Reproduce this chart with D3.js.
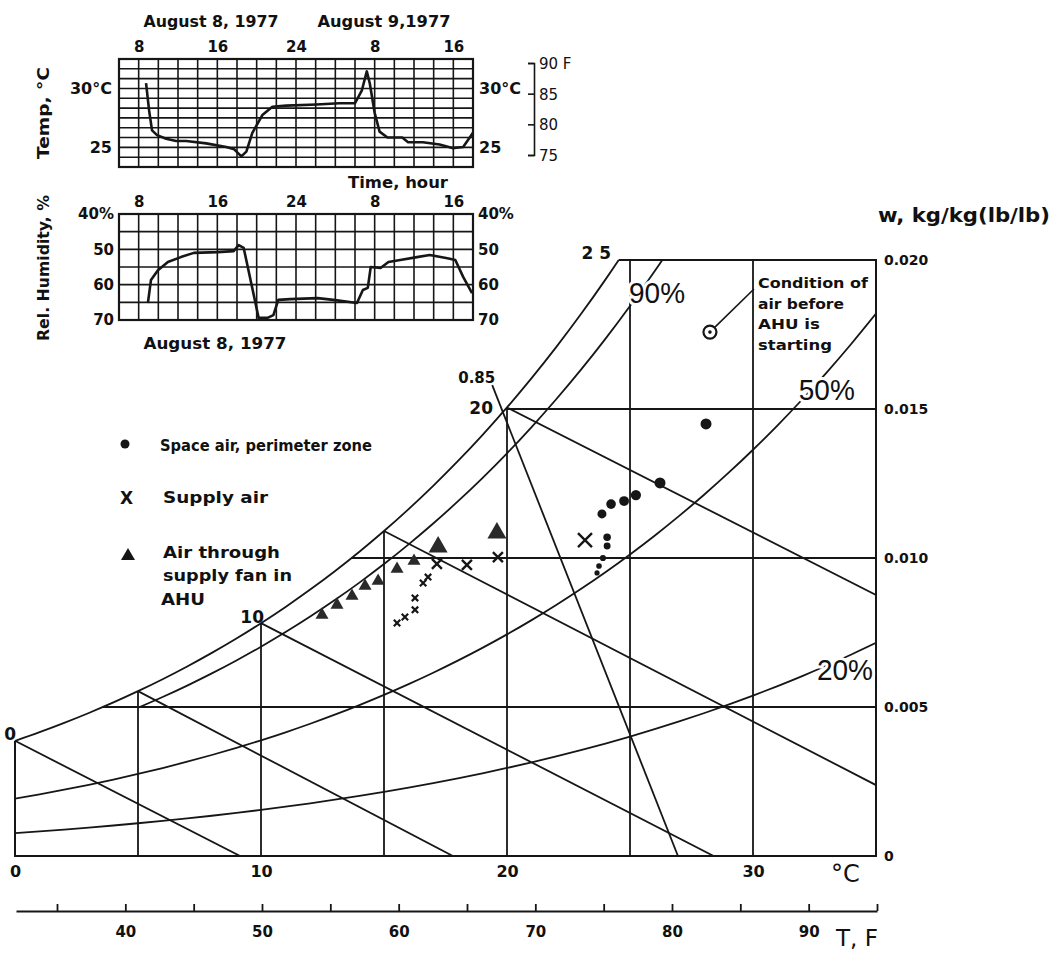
<!DOCTYPE html>
<html>
<head>
<meta charset="utf-8">
<script src="https://cdn.jsdelivr.net/npm/d3@7"></script>
<style>
  body { margin: 0; background: #fff; }
  svg { display: block; }
  text { font-family: 'DejaVu Sans', sans-serif; font-weight: bold; fill: #111; }
</style>
</head>
<body>
<svg id="chart" width="1057" height="958"></svg>
<script>
// ---- psychrometric chart structure ----
// saturation vapour pressure (kPa) at 0..35 °C
const satTemps = d3.range(0, 36);
const satPressure = [0.6113, 0.6571, 0.7060, 0.7581, 0.8135, 0.8726, 0.9354, 1.0021, 1.0730, 1.1482,
    1.2282, 1.3129, 1.4028, 1.4981, 1.5989, 1.7057, 1.8188, 1.9383, 2.0647, 2.1982,
    2.3392, 2.4881, 2.6452, 2.8109, 2.9856, 3.1697, 3.3637, 3.5679, 3.7828, 4.0089,
    4.2467, 4.4966, 4.7592, 5.0351, 5.3247, 5.6286];
const rhLevels = [1.0, 0.9, 0.5, 0.2];
const rhStartT = [0, 5, 0, 0];
const rhLabels = ['', '90%', '50%', '20%'];
const dryBulbLines = [5, 10, 15, 20, 25, 30];
const humidityLines = [0.005, 0.010, 0.015, 0.020];
const wetBulbStartT = [0, 5, 10, 15, 20];
const wetBulbEndT = [9.15, 17.8, 28.4, 35, 35];
const wetBulbEndW = [0, 0, 0, 0.00238, 0.00876];
const satLabelT = [0, 10, 20, 24.6];
const satLabelText = ['0', '10', '20', '2 5'];
const volumeLineT = [26.95, 19.4];
const volumeLineW = [0, 0.0158];
const tempTicksC = [0, 10, 20, 30];
const wTicks = [0, 0.005, 0.010, 0.015, 0.020];
const fahrenheitTicks = d3.range(35, 96, 5);

// ---- measured points ----
const spaceAirT = [28.09, 26.22, 25.24, 24.76, 24.23, 23.86, 24.07, 24.07, 23.90, 23.74, 23.66];
const spaceAirW = [0.01450, 0.01252, 0.01211, 0.01191, 0.01181, 0.01148, 0.01070, 0.01040, 0.01000, 0.00973, 0.00950];
const startCondition = [28.25, 0.01758];
const supplyAirT = [17.15, 18.37, 19.63, 23.17, 16.79, 16.59, 16.26, 16.26, 15.85, 15.53];
const supplyAirW = [0.00980, 0.00977, 0.01003, 0.01060, 0.00936, 0.00916, 0.00866, 0.00826, 0.00802, 0.00782];
const fanAirT = [12.48, 13.09, 13.70, 14.23, 14.76, 15.53, 16.22, 17.20, 19.59];
const fanAirW = [0.00802, 0.00836, 0.00866, 0.00899, 0.00916, 0.00956, 0.00983, 0.01030, 0.01077];

// ---- inset recordings (hours from 0:00 August 8) ----
const hourTicks = [8, 16, 24, 32, 40];
const tempHours = [8.75, 9.06, 9.36, 9.87, 10.79, 11.81, 12.83, 14.87, 16.91, 17.72, 18.44, 18.95, 19.56, 20.58, 21.6,
    23.0, 26.1, 28.4, 30.0, 30.7, 31.2, 31.5, 32.0, 32.5, 33.3, 34.8, 35.4, 36.9, 38.6, 39.9, 41.0, 42.0];
const tempValues = [30.4, 28.1, 26.4, 26.0, 25.7, 25.5, 25.5, 25.3, 25.0, 24.8, 24.2, 24.6, 26.2, 27.7, 28.4,
    28.5, 28.6, 28.7, 28.7, 29.8, 31.4, 30.4, 27.9, 26.3, 25.8, 25.8, 25.4, 25.4, 25.2, 24.9, 25.0, 26.2];
const rhHours = [8.94, 9.25, 9.96, 10.97, 12.29, 13.61, 16.04, 17.66, 18.17, 18.68, 20.2, 21.1, 21.7, 22.2, 23.4,
    26.2, 27.8, 30.2, 30.8, 31.3, 31.6, 32.6, 33.4, 34.6, 36.3, 37.6, 39.4, 40.2, 41.0, 41.9];
const rhValues = [65.2, 58.7, 55.9, 53.6, 52.2, 51.0, 50.8, 50.5, 48.8, 49.6, 69.4, 69.4, 68.6, 64.3, 64.1,
    63.8, 64.3, 65.2, 61.5, 60.9, 55.0, 55.3, 53.6, 53.0, 52.2, 51.6, 52.5, 53.0, 57.8, 62.4];
const fahrenheitInset = [75, 80, 85, 90];

const svg = d3.select('#chart');
const ink = '#161616';

// ---------- main psychrometric chart ----------
const P = 99; // kPa, fits the printed chart
const x = d3.scaleLinear().domain([0, 35]).range([15, 876]);
const y = d3.scaleLinear().domain([0, 0.020]).range([856, 260]);

const psOf = d3.scaleLinear().domain(satTemps).range(satPressure);
function wAt(T, phi) {
    const pv = phi * psOf(T);
    return 0.622 * pv / (P - pv);
}
function tSat(w) {
    let lo = 0, hi = 35;
    for (let i = 0; i < 40; i++) {
        const mid = (lo + hi) / 2;
        if (wAt(mid, 1) < w) lo = mid; else hi = mid;
    }
    return lo;
}

svg.append('defs').append('clipPath').attr('id', 'plotClip')
    .append('rect')
    .attr('x', x(0)).attr('y', y(0.020))
    .attr('width', x(35) - x(0)).attr('height', y(0) - y(0.020));

const main = svg.append('g');
const grid = main.append('g').attr('clip-path', 'url(#plotClip)')
    .attr('stroke', ink).attr('stroke-width', 1.8).attr('fill', 'none');

// relative humidity curves
const rhLine = d3.line().x(d => x(d[0])).y(d => y(d[1])).curve(d3.curveMonotoneX);
rhLevels.forEach((phi, i) => {
    const pts = satTemps.filter(t => t >= rhStartT[i]).map(t => [t, wAt(t, phi)]);
    grid.append('path').attr('d', rhLine(pts));
});

// dry bulb verticals
dryBulbLines.forEach(t => {
    grid.append('line')
        .attr('x1', x(t)).attr('x2', x(t))
        .attr('y1', y(0)).attr('y2', y(Math.min(wAt(t, 1), 0.020)));
});

// humidity ratio horizontals
humidityLines.forEach(w => {
    grid.append('line')
        .attr('x1', x(tSat(w))).attr('x2', x(35))
        .attr('y1', y(w)).attr('y2', y(w));
});

// wet bulb / enthalpy diagonals
wetBulbStartT.forEach((t, i) => {
    grid.append('line')
        .attr('x1', x(t)).attr('y1', y(wAt(t, 1)))
        .attr('x2', x(wetBulbEndT[i])).attr('y2', y(wetBulbEndW[i]));
});

// specific volume line 0.85
grid.append('line')
    .attr('x1', x(volumeLineT[0])).attr('y1', y(volumeLineW[0]))
    .attr('x2', x(volumeLineT[1])).attr('y2', y(volumeLineW[1]));

// borders
main.append('path')
    .attr('d', `M${x(0)},${y(wAt(0, 1))} V${y(0)} H${x(35)} V${y(0.020)} H${x(tSat(0.020))}`)
    .attr('fill', 'none').attr('stroke', ink).attr('stroke-width', 2);

// saturation labels (offsets from the curve point, in px)
const satLabelOffset = [[1, -1], [3, 0], [-14, 7], [-9, -1]];
satLabelT.forEach((t, i) => {
    main.append('text')
        .attr('x', x(t) + satLabelOffset[i][0])
        .attr('y', y(Math.min(wAt(t, 1), 0.020)) + satLabelOffset[i][1])
        .attr('text-anchor', 'end')
        .attr('font-size', 17)
        .text(satLabelText[i]);
});
main.append('text')
    .attr('x', x(volumeLineT[1]) + 3).attr('y', y(volumeLineW[1]) - 2)
    .attr('text-anchor', 'end')
    .attr('font-size', 15)
    .text('0.85');

// RH labels (baseline positions in chart units)
const rhLabelPos = [null, [26.1, 0.01856], [33.0, 0.0153], [33.74, 0.0059]];
rhLevels.forEach((phi, i) => {
    if (!rhLabels[i]) return;
    main.append('text')
        .attr('x', x(rhLabelPos[i][0])).attr('y', y(rhLabelPos[i][1]))
        .attr('text-anchor', 'middle')
        .style('font-family', "'Liberation Sans', Arial, sans-serif")
        .style('font-weight', 'normal')
        .attr('font-size', 30)
        .attr('textLength', 56).attr('lengthAdjust', 'spacingAndGlyphs')
        .attr('stroke', '#fff').attr('stroke-width', 6).attr('paint-order', 'stroke')
        .text(rhLabels[i]);
});

// axes
const bottomAxis = d3.axisBottom(x).tickValues(tempTicksC).tickSize(0).tickPadding(10);
main.append('g').attr('transform', `translate(0,${y(0)})`).call(bottomAxis)
    .call(g => g.select('.domain').remove())
    .call(g => g.selectAll('text').attr('font-size', 16).attr('fill', ink));
main.append('text').attr('x', 831).attr('y', 882).attr('font-size', 24)
    .style('font-weight', 'normal').text('°C');

const rightAxis = d3.axisRight(y).tickValues(wTicks).tickSize(0).tickPadding(8)
    .tickFormat(d => d === 0 ? '0' : d3.format('.3f')(d));
main.append('g').attr('transform', `translate(${x(35)},0)`).call(rightAxis)
    .call(g => g.select('.domain').remove())
    .call(g => g.selectAll('text').attr('font-size', 14).attr('fill', ink));
main.append('text').attr('x', 878).attr('y', 222).attr('font-size', 19)
    .attr('textLength', 172).attr('lengthAdjust', 'spacingAndGlyphs')
    .text('w, kg/kg(lb/lb)');

// Fahrenheit scale
const xF = d3.scaleLinear().domain([32, 95]).range([x(0), x(35)]);
const fAxis = d3.axisBottom(xF).tickValues(fahrenheitTicks).tickSize(-7).tickSizeOuter(0).tickPadding(15)
    .tickFormat(d => d % 10 === 0 ? d : '');
main.append('g').attr('transform', 'translate(1,911)').call(fAxis)
    .call(g => g.selectAll('path, line').attr('stroke', ink).attr('stroke-width', 1.8))
    .call(g => g.selectAll('text').attr('font-size', 15).attr('fill', ink));
main.append('text').attr('x', 836).attr('y', 946).attr('font-size', 23)
    .style('font-weight', 'normal').text('T, F');

// ---- data marks ----
const marks = main.append('g');
const dotR = d3.scaleLinear().domain([0.0095, 0.0125]).range([2.6, 5.5]).clamp(true);
spaceAirT.forEach((t, i) => {
    marks.append('circle')
        .attr('cx', x(t)).attr('cy', y(spaceAirW[i]))
        .attr('r', dotR(spaceAirW[i]))
        .attr('fill', ink);
});
marks.append('circle').attr('cx', x(startCondition[0])).attr('cy', y(startCondition[1]))
    .attr('r', 6.5).attr('fill', 'none').attr('stroke', ink).attr('stroke-width', 2.2);
marks.append('circle').attr('cx', x(startCondition[0])).attr('cy', y(startCondition[1]))
    .attr('r', 1.8).attr('fill', ink);
marks.append('line')
    .attr('x1', x(startCondition[0]) + 5).attr('y1', y(startCondition[1]) - 5)
    .attr('x2', 754).attr('y2', 289)
    .attr('stroke', ink).attr('stroke-width', 1.6);

function crossPath(s) {
    return `M${-s},${-s}L${s},${s}M${-s},${s}L${s},${-s}`;
}
supplyAirT.forEach((t, i) => {
    const s = t > 20 ? 7 : (t >= 17 ? 5 : 3.2);
    marks.append('path')
        .attr('transform', `translate(${x(t)},${y(supplyAirW[i])})`)
        .attr('d', crossPath(s))
        .attr('stroke', ink).attr('stroke-width', t >= 17 ? 2.4 : 2.2)
        .attr('fill', 'none');
});

const triangle = d3.symbol().type(d3.symbolTriangle);
fanAirT.forEach((t, i) => {
    const side = t >= 17 ? 19 : 13;
    marks.append('path')
        .attr('transform', `translate(${x(t)},${y(fanAirW[i]) - 2})`)
        .attr('d', triangle.size(0.433 * side * side)())
        .attr('fill', '#2a2a2a');
});

// note
const noteLines = ['Condition of', 'air before', 'AHU is', 'starting'];
const noteLen = [110, 86, 62, 74];
noteLines.forEach((s, i) => {
    main.append('text').attr('x', 758).attr('y', 288 + i * 20.5)
        .attr('font-size', 14)
        .attr('textLength', noteLen[i]).attr('lengthAdjust', 'spacingAndGlyphs')
        .text(s);
});

// legend
const legend = main.append('g');
legend.append('circle').attr('cx', 125).attr('cy', 444).attr('r', 4.5).attr('fill', ink);
legend.append('text').attr('x', 120).attr('y', 504).attr('font-size', 17).text('X');
legend.append('path').attr('transform', 'translate(128,556)')
    .attr('d', triangle.size(0.433 * 14 * 14)()).attr('fill', ink);
const legendText = [
    ['Space air, perimeter zone', 160, 451, 212],
    ['Supply air', 163, 503, 105],
    ['Air through', 163, 558, 117],
    ['supply fan in', 163, 581, 129],
    ['AHU', 161, 605, 44]
];
legendText.forEach(d => {
    legend.append('text').attr('x', d[1]).attr('y', d[2])
        .attr('font-size', 16)
        .attr('textLength', d[3]).attr('lengthAdjust', 'spacingAndGlyphs')
        .text(d[0]);
});

// ---------- insets ----------
const xh = d3.scaleLinear().domain([6, 42]).range([119, 473]);
const hourFormat = d => d % 24 === 0 ? 24 : d % 24;

function drawInset(yScale, top, bottom, rows, hours, values) {
    const g = svg.append('g');
    const gridG = g.append('g').attr('stroke', ink).attr('stroke-width', 1.6);
    d3.range(6, 43, 2).forEach(h => {
        gridG.append('line').attr('x1', xh(h)).attr('x2', xh(h)).attr('y1', top).attr('y2', bottom);
    });
    d3.range(rows + 1).forEach(k => {
        const yy = top + (bottom - top) * k / rows;
        gridG.append('line').attr('x1', xh(6)).attr('x2', xh(42)).attr('y1', yy).attr('y2', yy);
    });
    g.append('rect').attr('x', xh(6)).attr('y', top).attr('width', xh(42) - xh(6)).attr('height', bottom - top)
        .attr('fill', 'none').attr('stroke', ink).attr('stroke-width', 2.2);
    const line = d3.line().x((d, i) => xh(hours[i])).y(d => yScale(d));
    g.append('path').attr('d', line(values))
        .attr('fill', 'none').attr('stroke', ink).attr('stroke-width', 2.6).attr('stroke-linejoin', 'round');
    g.append('g').attr('transform', `translate(0,${top})`)
        .call(d3.axisTop(xh).tickValues(hourTicks).tickSize(0).tickPadding(7).tickFormat(hourFormat))
        .call(a => a.select('.domain').remove())
        .call(a => a.selectAll('text').attr('font-size', 15).attr('fill', ink));
    return g;
}

// temperature
const yT = d3.scaleLinear().domain([23.3, 32.45]).range([167, 59]);
const tempG = drawInset(yT, 59, 167, 11, tempHours, tempValues);
const tempFmt = d => d === 30 ? '30°C' : d;
tempG.append('g').attr('transform', `translate(${xh(6)},0)`)
    .call(d3.axisLeft(yT).tickValues([25, 30]).tickSize(0).tickPadding(7).tickFormat(tempFmt))
    .call(a => a.select('.domain').remove())
    .call(a => a.selectAll('text').attr('font-size', 16).attr('fill', ink));
tempG.append('g').attr('transform', `translate(${xh(42)},0)`)
    .call(d3.axisRight(yT).tickValues([25, 30]).tickSize(0).tickPadding(6).tickFormat(tempFmt))
    .call(a => a.select('.domain').remove())
    .call(a => a.selectAll('text').attr('font-size', 16).attr('fill', ink));
tempG.append('text').attr('x', 211).attr('y', 27).attr('text-anchor', 'middle').attr('font-size', 15)
    .attr('textLength', 135).attr('lengthAdjust', 'spacingAndGlyphs').text('August 8, 1977');
tempG.append('text').attr('x', 384).attr('y', 27).attr('text-anchor', 'middle').attr('font-size', 15)
    .attr('textLength', 133).attr('lengthAdjust', 'spacingAndGlyphs').text('August 9,1977');
tempG.append('text').attr('x', 398).attr('y', 188).attr('text-anchor', 'middle').attr('font-size', 15)
    .attr('textLength', 100).attr('lengthAdjust', 'spacingAndGlyphs').text('Time, hour');
tempG.append('text').attr('transform', 'translate(49,113) rotate(-90)').attr('text-anchor', 'middle')
    .attr('font-size', 15).attr('textLength', 92).attr('lengthAdjust', 'spacingAndGlyphs').text('Temp, °C');

// Fahrenheit bracket
const yF = d3.scaleLinear().domain([75, 90]).range([155, 63]);
tempG.append('g').attr('transform', 'translate(534,0)')
    .call(d3.axisLeft(yF).tickValues(fahrenheitInset).tickSize(6).tickSizeOuter(6).tickFormat(''))
    .call(a => a.selectAll('path, line').attr('stroke', ink).attr('stroke-width', 1.6));
fahrenheitInset.forEach(f => {
    tempG.append('text').attr('x', 539).attr('y', yF(f) + 6).attr('font-size', 15)
        .style('font-weight', 'normal')
        .text(f === 90 ? '90 F' : f);
});

// relative humidity
const yRH = d3.scaleLinear().domain([40, 70]).range([214, 320]);
const rhG = drawInset(yRH, 214, 320, 6, rhHours, rhValues);
const rhFmt = d => d === 40 ? '40%' : d;
rhG.append('g').attr('transform', `translate(${xh(6)},0)`)
    .call(d3.axisLeft(yRH).tickValues([40, 50, 60, 70]).tickSize(0).tickPadding(5).tickFormat(rhFmt))
    .call(a => a.select('.domain').remove())
    .call(a => a.selectAll('text').attr('font-size', 15).attr('fill', ink));
rhG.append('g').attr('transform', `translate(${xh(42)},0)`)
    .call(d3.axisRight(yRH).tickValues([40, 50, 60, 70]).tickSize(0).tickPadding(5).tickFormat(rhFmt))
    .call(a => a.select('.domain').remove())
    .call(a => a.selectAll('text').attr('font-size', 15).attr('fill', ink));
rhG.append('text').attr('x', 215).attr('y', 349).attr('text-anchor', 'middle').attr('font-size', 15)
    .attr('textLength', 143).attr('lengthAdjust', 'spacingAndGlyphs').text('August 8, 1977');
rhG.append('text').attr('transform', 'translate(49,268) rotate(-90)').attr('text-anchor', 'middle')
    .attr('font-size', 15).attr('textLength', 146).attr('lengthAdjust', 'spacingAndGlyphs').text('Rel. Humidity, %');
</script>
</body>
</html>
